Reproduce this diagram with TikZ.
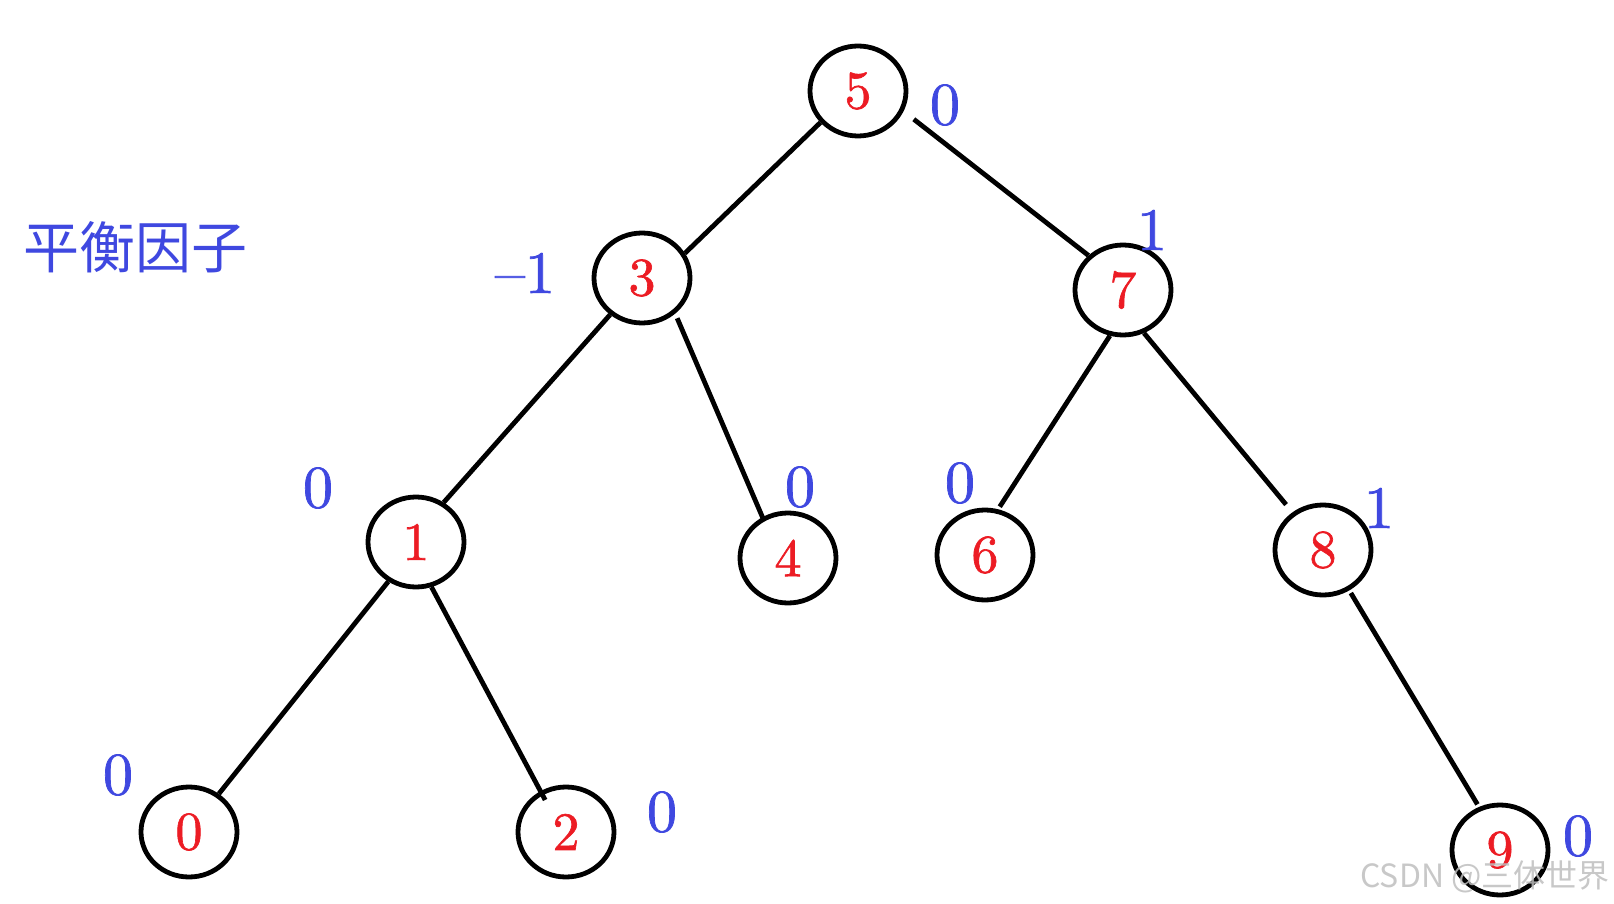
\documentclass[tikz,border=0pt]{standalone}
\usepackage{fontspec}
\newfontfamily\cjk{Noto Sans CJK SC}
\newfontfamily\dig[FakeBold=1.2,Ligatures=TeX]{lmroman10-regular.otf}
\usetikzlibrary{shapes.geometric}
\definecolor{numred}{RGB}{236,28,36}
\definecolor{bfblue}{RGB}{63,72,224}
\definecolor{wmgray}{RGB}{190,190,190}
\begin{document}
\begin{tikzpicture}[x=0.5pt,y=-0.5pt,
  tnode/.style={ellipse,draw,line width=2.4pt,minimum width=48pt,minimum height=45pt,inner sep=0pt,text=numred,font=\dig\fontsize{27}{30}\selectfont},
  bf/.style={text=bfblue,font=\dig\fontsize{30}{33}\selectfont,inner sep=0pt},
  edge/.style={line width=2.4pt}]
\useasboundingbox (0,0) rectangle (1614,904);
% tree nodes
\node[tnode] (n5) at (858,91) {5};
\node[tnode] (n3) at (642,278) {3};
\node[tnode] (n7) at (1123,290) {7};
\node[tnode] (n1) at (416,542) {1};
\node[tnode] (n4) at (788,558) {4};
\node[tnode] (n6) at (985,555) {6};
\node[tnode] (n8) at (1323,550) {8};
\node[tnode] (n0) at (189,832) {0};
\node[tnode] (n2) at (566,832) {2};
\node[tnode] (n9) at (1500,850) {9};
% edges
\draw[edge] (n5.-140) -- (n3.30);
\draw[edge,shorten <=6.5pt] (n5.-24) -- (n7.135);
\draw[edge] (n3.-131) -- (n1.55);
\draw[edge,shorten <=2.5pt,shorten >=-2pt] (n3.-47) -- (n4.122);
\draw[edge,shorten >=1.5pt] (n7.-106) -- (n6.74);
\draw[edge,shorten >=5pt] (n7.-64) -- (n8.129);
\draw[edge] (n1.-125) -- (n0.52);
\draw[edge,shorten >=-5pt] (n1.-71) -- (n2.122);
\draw[edge,shorten <=1.5pt,shorten >=1.5pt] (n8.-57) -- (n9.116);
% balance factors
\node[bf] (b5) at (945,105) {0};
\node[bf] (b3) at (525,273) {\textendash 1};
\node[bf] (b7) at (1152,230) {1};
\node[bf] (b1) at (318,488) {0};
\node[bf] (b4) at (800,487) {0};
\node[bf] (b6) at (960,483) {0};
\node[bf] (b8) at (1379,508) {1};
\node[bf] (b0) at (118,775) {0};
\node[bf] (b2) at (662,812) {0};
\node[bf] (b9) at (1578,836) {0};
% title
\node[text=bfblue,font=\cjk\fontsize{28}{30}\selectfont,inner sep=0pt] (title) at (136,247) {平衡因子};
% watermark
\node[text=wmgray,opacity=0.85,font=\cjk\fontsize{16}{18}\selectfont,inner sep=0pt,anchor=east] (wm) at (1610,877) {CSDN @三体世界};
\end{tikzpicture}
\end{document}
